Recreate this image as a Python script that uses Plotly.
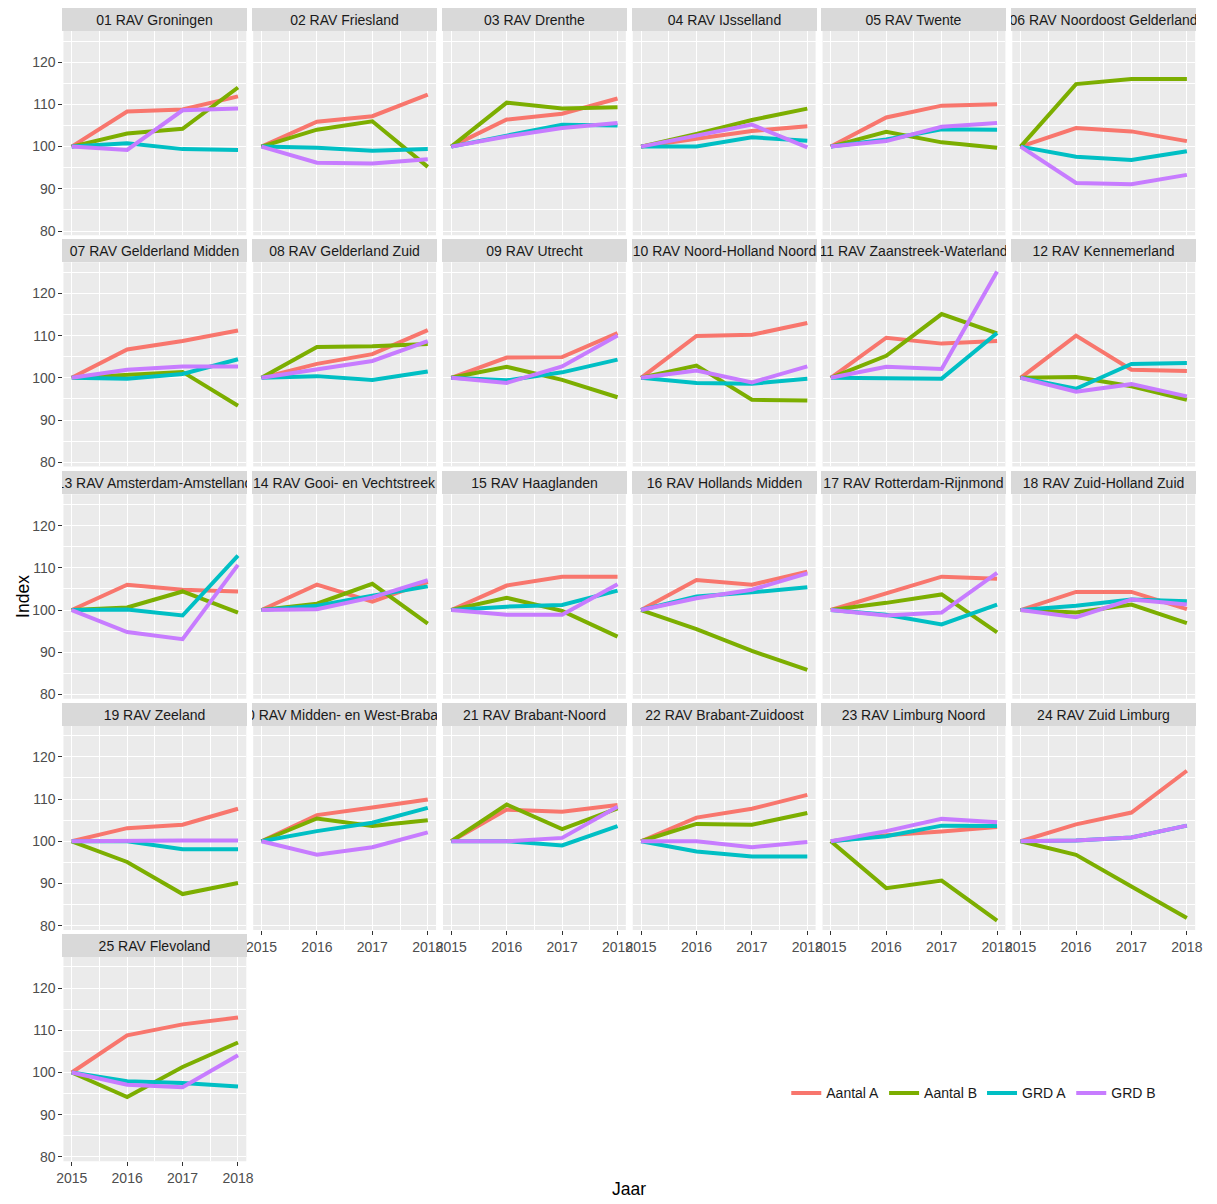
import plotly.graph_objects as go

years = [2015, 2016, 2017, 2018]

regions = [
    "01 RAV Groningen", "02 RAV Friesland", "03 RAV Drenthe", "04 RAV IJsselland",
    "05 RAV Twente", "06 RAV Noordoost Gelderland", "07 RAV Gelderland Midden",
    "08 RAV Gelderland Zuid", "09 RAV Utrecht", "10 RAV Noord-Holland Noord",
    "11 RAV Zaanstreek-Waterland", "12 RAV Kennemerland", "13 RAV Amsterdam-Amstelland",
    "14 RAV Gooi- en Vechtstreek", "15 RAV Haaglanden", "16 RAV Hollands Midden",
    "17 RAV Rotterdam-Rijnmond", "18 RAV Zuid-Holland Zuid", "19 RAV Zeeland",
    "20 RAV Midden- en West-Brabant", "21 RAV Brabant-Noord", "22 RAV Brabant-Zuidoost",
    "23 RAV Limburg Noord", "24 RAV Zuid Limburg", "25 RAV Flevoland",
]

series_names = ["Aantal A", "Aantal B", "GRD A", "GRD B"]
series_colors = ["#F8766D", "#7CAE00", "#00BFC4", "#C77CFF"]

aantal_a = [
    [100, 108.3, 108.8, 111.9], [100, 105.9, 107.2, 112.3], [100, 106.4, 107.8, 111.4],
    [100, 101.8, 103.7, 104.8], [100, 106.9, 109.7, 110.0], [100, 104.4, 103.6, 101.3],
    [100, 106.7, 108.7, 111.2], [100, 103.3, 105.6, 111.3], [100, 104.8, 104.9, 110.6],
    [100, 109.9, 110.2, 113.0], [100, 109.5, 108.1, 108.7], [100, 110.0, 101.9, 101.6],
    [100, 106.0, 104.8, 104.4], [100, 106.0, 102.0, 106.7], [100, 105.8, 107.9, 107.9],
    [100, 107.1, 106.0, 109.1], [100, 104.0, 107.9, 107.4], [100, 104.3, 104.3, 100.2],
    [100, 103.1, 103.9, 107.7], [100, 106.2, 108.0, 109.9], [100, 107.5, 107.0, 108.6],
    [100, 105.6, 107.7, 111.0], [100, 101.4, 102.3, 103.4], [100, 104.0, 106.8, 116.7],
    [100, 108.8, 111.4, 113.0],
]
aantal_b = [
    [100, 103.1, 104.2, 114.0], [100, 104.0, 106.0, 95.2], [100, 110.4, 109.0, 109.3],
    [100, 103.0, 106.3, 109.0], [100, 103.5, 101.0, 99.7], [100, 114.8, 116.0, 116.0],
    [100, 100.6, 101.4, 93.4], [100, 107.3, 107.5, 108.0], [100, 102.6, 99.5, 95.4],
    [100, 102.9, 94.8, 94.6], [100, 105.2, 115.1, 110.5], [100, 100.2, 98.0, 94.8],
    [100, 100.6, 104.4, 99.4], [100, 101.5, 106.2, 96.8], [100, 102.9, 99.8, 93.7],
    [100, 95.5, 90.3, 85.8], [100, 101.7, 103.7, 94.7], [100, 99.4, 101.3, 96.9],
    [100, 95.1, 87.5, 90.1], [100, 105.4, 103.6, 105.0], [100, 108.7, 102.9, 107.8],
    [100, 104.1, 103.9, 106.7], [100, 88.9, 90.7, 81.2], [100, 96.8, 89.3, 81.8],
    [100, 94.2, 101.3, 107.1],
]
grd_a = [
    [100, 100.8, 99.4, 99.2], [100, 99.7, 99.0, 99.4], [100, 102.6, 105.2, 105.0],
    [100, 100.0, 102.2, 101.4], [100, 101.7, 104.1, 104.0], [100, 97.6, 96.8, 98.9],
    [100, 99.8, 100.9, 104.4], [100, 100.4, 99.5, 101.5], [100, 99.4, 101.3, 104.3],
    [100, 98.8, 98.6, 99.8], [100, 100.0, 99.8, 110.6], [100, 97.4, 103.3, 103.5],
    [100, 100.1, 98.7, 112.9], [100, 101.0, 103.4, 105.6], [100, 100.8, 101.2, 104.6],
    [100, 103.2, 104.2, 105.4], [100, 98.9, 96.6, 101.3], [100, 101.0, 102.5, 102.1],
    [100, 100.0, 98.1, 98.1], [100, 102.4, 104.4, 107.9], [100, 100.0, 99.0, 103.6],
    [100, 97.6, 96.4, 96.4], [100, 101.2, 103.7, 103.6], [100, 100.2, 100.9, 103.7],
    [100, 97.9, 97.5, 96.7],
]
grd_b = [
    [100, 99.2, 108.6, 109.0], [100, 96.2, 96.0, 97.0], [100, 102.4, 104.4, 105.6],
    [100, 102.5, 105.2, 99.8], [100, 101.3, 104.7, 105.6], [100, 91.4, 91.1, 93.3],
    [100, 101.9, 102.7, 102.7], [100, 101.9, 104.0, 108.7], [100, 98.8, 102.7, 110.0],
    [100, 101.7, 98.9, 102.7], [100, 102.6, 102.1, 125.2], [100, 96.7, 98.5, 95.6],
    [100, 94.8, 93.1, 110.7], [100, 100.2, 103.0, 107.1], [100, 98.9, 98.9, 106.1],
    [100, 102.8, 104.8, 108.7], [100, 98.7, 99.4, 108.8], [100, 98.3, 102.5, 101.3],
    [100, 100.2, 100.2, 100.2], [100, 96.8, 98.6, 102.1], [100, 100.0, 100.8, 108.2],
    [100, 100.0, 98.6, 99.8], [100, 102.4, 105.3, 104.5], [100, 100.2, 100.9, 103.7],
    [100, 97.1, 96.5, 104.1],
]

y_ticks = [80, 90, 100, 110, 120]
x_ticks = [2015, 2016, 2017, 2018]

series_data = [aantal_a, aantal_b, grd_a, grd_b]

# ---- layout geometry (pixels in the 1217x1204 window) ----
OFF = 8                      # default page body margin
W, H = 1217 - OFF, 1204 - OFF
NCOL = 6
PANEL_W = 185
COL_STEP = 192
LEFT = 57 - OFF
PANEL_H = 205
ROW_TOPS = [t - OFF for t in (31, 263, 496, 728, 960)]
STRIP_H = 23

FONT = "Liberation Sans, Arial, sans-serif"
SMALL = 14
TITLE = 17.5

all_vals = [v for s in series_data for reg in s for v in reg]
ymin, ymax = min(all_vals), max(all_vals)
pad = (ymax - ymin) * 0.05
y_range = [ymin - pad, ymax + pad]
x_range = [2015 - 0.15, 2018 + 0.15]

fig = go.Figure()
layout = {}
annotations = []
n = len(regions)

for i, name in enumerate(regions):
    r, c = divmod(i, NCOL)
    ax = "" if i == 0 else str(i + 1)
    x0 = LEFT + c * COL_STEP
    top = ROW_TOPS[r]
    xdom = [x0 / W, (x0 + PANEL_W) / W]
    ydom = [1 - (top + PANEL_H) / H, 1 - top / H]

    show_x = (i + NCOL >= n)
    show_y = (c == 0)

    layout["xaxis" + ax] = dict(
        domain=xdom, range=x_range, anchor="y" + ax,
        tickvals=x_ticks, showticklabels=show_x,
        ticks="outside" if show_x else "", ticklen=4, tickwidth=1, tickcolor="#333333",
        showgrid=True, gridcolor="white", gridwidth=1.2,
        minor=dict(dtick=0.5, tick0=2015.5, showgrid=True, gridcolor="white", gridwidth=0.6),
        zeroline=False, showline=False, fixedrange=True,
        tickfont=dict(family=FONT, size=SMALL, color="#4D4D4D"),
    )
    layout["yaxis" + ax] = dict(
        domain=ydom, range=y_range, anchor="x" + ax,
        tickvals=y_ticks, showticklabels=show_y,
        ticks="outside" if show_y else "", ticklen=4, tickwidth=1, tickcolor="#333333",
        showgrid=True, gridcolor="white", gridwidth=1.2,
        minor=dict(dtick=5, tick0=75, showgrid=True, gridcolor="white", gridwidth=0.6),
        zeroline=False, showline=False, fixedrange=True,
        tickfont=dict(family=FONT, size=SMALL, color="#4D4D4D"),
    )

    for k, sname in enumerate(series_names):
        fig.add_trace(go.Scatter(
            x=years, y=series_data[k][i], mode="lines",
            line=dict(color=series_colors[k], width=4),
            name=sname, legendgroup=sname, showlegend=(i == 0),
            xaxis="x" + ax, yaxis="y" + ax,
        ))

    fig.add_shape(type="rect", xref="paper", yref="paper",
                  x0=xdom[0], x1=xdom[1], y0=ydom[0], y1=ydom[1],
                  fillcolor="#EBEBEB", line=dict(width=0), layer="below")

    annotations.append(dict(
        text=name, xref="paper", yref="paper",
        x=(x0 + PANEL_W / 2) / W, y=1 - (top - STRIP_H / 2) / H,
        xanchor="center", yanchor="middle",
        width=PANEL_W, height=STRIP_H, bgcolor="#D9D9D9",
        borderpad=0, borderwidth=0, showarrow=False, align="center",
        font=dict(family=FONT, size=SMALL, color="#1A1A1A"),
    ))

annotations.append(dict(
    text="Index", xref="paper", yref="paper", x=(16 - OFF) / W, y=1 - (598 - OFF) / H,
    xanchor="center", yanchor="middle", textangle=-90, showarrow=False,
    font=dict(family=FONT, size=TITLE, color="black"),
))
annotations.append(dict(
    text="Jaar", xref="paper", yref="paper", x=(629 - OFF) / W, y=1 - (1193 - OFF) / H,
    xanchor="center", yanchor="middle", showarrow=False,
    font=dict(family=FONT, size=TITLE, color="black"),
))

fig.update_layout(
    width=W, height=H,
    margin=dict(l=0, r=0, t=0, b=0),
    paper_bgcolor="white", plot_bgcolor="rgba(0,0,0,0)",
    annotations=annotations,
    showlegend=True,
    legend=dict(
        orientation="h", x=(978 - OFF) / W, y=1 - (1097 - OFF) / H,
        xanchor="center", yanchor="middle",
        font=dict(family=FONT, size=SMALL, color="#1A1A1A"),
        itemwidth=30, bgcolor="rgba(0,0,0,0)", tracegroupgap=0,
    ),
    **layout,
)

fig.write_html("out.html")
